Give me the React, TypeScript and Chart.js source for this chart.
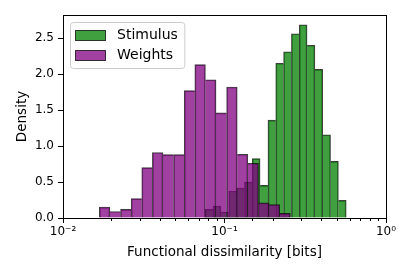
import React, { useEffect, useRef } from 'react';
import { Chart, registerables } from 'chart.js';

Chart.register(...registerables);

// ---- data ----
const seriesLabels = ['Stimulus', 'Weights'];

// bin centres (log-spaced bins) and densities
const stimulusBinCenters = [0.0804, 0.08989, 0.10053, 0.1124, 0.12566, 0.14054, 0.15711, 0.17567, 0.19643, 0.21957, 0.24549, 0.27455, 0.30697, 0.34322, 0.38371, 0.429, 0.47973, 0.53641];
const stimulusDensity = [0.12, 0.167, 0.083, 0.375, 0.417, 0.5, 0.824, 0.454, 1.36, 2.15, 2.31, 2.56, 2.685, 2.4, 2.065, 1.157, 0.787, 0.245];

const weightsBinCenters = [0.018096, 0.021051, 0.024491, 0.028494, 0.03315, 0.038566, 0.044866, 0.052192, 0.060716, 0.070632, 0.082168, 0.095566, 0.11117, 0.12933, 0.15045, 0.17502, 0.2036, 0.23686];
const weightsDensity = [0.15, 0.09, 0.12, 0.27, 0.7, 0.91, 0.88, 0.88, 1.77, 2.13, 1.92, 1.46, 1.82, 0.885, 0.76, 0.21, 0.185, 0.065];

const xMin = 0.01;
const xMax = 1;
const yMin = 0;
const yMax = 2.82;
const yStep = 0.5;

const xTitle = 'Functional dissimilarity [bits]';
const yTitle = 'Density';

const FONT = "'DejaVu Sans', sans-serif";

const SUP: Record<string, string> = { '-': '\u207B', '0': '\u2070', '1': '\u00B9', '2': '\u00B2', '3': '\u00B3', '4': '\u2074', '5': '\u2075', '6': '\u2076', '7': '\u2077', '8': '\u2078', '9': '\u2079' };
const isDecade = (v: number) => {
  const e = Math.log10(v);
  return Math.abs(e - Math.round(e)) < 1e-6;
};
const decadeLabel = (v: number) => {
  const e = Math.round(Math.log10(v));
  return '10' + String(e).split('').map((c) => SUP[c] || c).join('');
};

const edgeWidth = (values: number[]) => (ctx: any) => {
  const i = ctx.dataIndex;
  if (i === undefined) return 1;
  const v = values[i];
  const prev = i > 0 ? values[i - 1] : -Infinity;
  const next = i < values.length - 1 ? values[i + 1] : -Infinity;
  return { top: 1, bottom: 0, left: prev <= v ? 1 : 0, right: next < v ? 1 : 0 };
};

const frameAndLegend = {
  id: 'frameAndLegend',
  afterDraw(chart: any) {
    const { ctx, chartArea: a } = chart;
    ctx.save();
    // axes frame (4 spines)
    ctx.strokeStyle = '#000';
    ctx.lineWidth = 1;
    ctx.strokeRect(Math.round(a.left) + 0.5, Math.round(a.top) + 0.5, Math.round(a.right - a.left), Math.round(a.bottom - a.top));

    // legend inside the axes, upper left
    const ds = chart.data.datasets;
    ctx.font = `14px ${FONT}`;
    const textX = a.left + 54;
    let maxW = 0;
    ds.forEach((d: any) => { maxW = Math.max(maxW, ctx.measureText(d.label).width); });
    const bx = a.left + 7.5;
    const by = a.top + 7.5;
    const bw = textX + maxW + 7 - bx;
    const bh = 46;
    const r = 3;
    ctx.beginPath();
    ctx.moveTo(bx + r, by);
    ctx.lineTo(bx + bw - r, by);
    ctx.arcTo(bx + bw, by, bx + bw, by + r, r);
    ctx.lineTo(bx + bw, by + bh - r);
    ctx.arcTo(bx + bw, by + bh, bx + bw - r, by + bh, r);
    ctx.lineTo(bx + r, by + bh);
    ctx.arcTo(bx, by + bh, bx, by + bh - r, r);
    ctx.lineTo(bx, by + r);
    ctx.arcTo(bx, by, bx + r, by, r);
    ctx.closePath();
    ctx.fillStyle = 'rgba(255,255,255,0.8)';
    ctx.fill();
    ctx.strokeStyle = 'rgba(204,204,204,1)';
    ctx.lineWidth = 1;
    ctx.stroke();

    ds.forEach((d: any, i: number) => {
      const hy = a.top + 15.5 + i * 20;
      ctx.fillStyle = d.backgroundColor;
      ctx.fillRect(a.left + 12.5, hy, 30, 10);
      ctx.strokeStyle = d.borderColor;
      ctx.lineWidth = 1;
      ctx.strokeRect(a.left + 12.5, hy, 30, 10);
      ctx.fillStyle = '#000';
      ctx.textAlign = 'left';
      ctx.textBaseline = 'middle';
      ctx.fillText(d.label, textX, hy + 5);
    });
    ctx.restore();
  },
};

const hiddenLogAxis = {
  type: 'logarithmic' as const,
  min: xMin,
  max: xMax,
  display: false,
  offset: false,
  grid: { offset: false },
  afterBuildTicks: (s: any) => { s.ticks = [{ value: xMin }, { value: xMax }]; },
};

export default function App() {
  const ref = useRef<HTMLCanvasElement | null>(null);

  useEffect(() => {
    if (!ref.current) return;
    const chart = new Chart(ref.current, {
      type: 'bar',
      data: {
        datasets: [
          {
            label: seriesLabels[0],
            data: stimulusBinCenters.map((x, i) => ({ x, y: stimulusDensity[i] })),
            xAxisID: 'xg',
            yAxisID: 'y',
            backgroundColor: 'rgba(0,128,0,0.75)',
            borderColor: 'rgba(0,0,0,0.75)',
            borderWidth: edgeWidth(stimulusDensity) as any,
            barPercentage: 1,
            categoryPercentage: 1,
            grouped: false,
            order: 1,
          } as any,
          {
            label: seriesLabels[1],
            data: weightsBinCenters.map((x, i) => ({ x, y: weightsDensity[i] })),
            xAxisID: 'xp',
            yAxisID: 'y',
            backgroundColor: 'rgba(128,0,128,0.75)',
            borderColor: 'rgba(0,0,0,0.75)',
            borderWidth: edgeWidth(weightsDensity) as any,
            barPercentage: 1,
            categoryPercentage: 1,
            grouped: false,
            order: 0,
          } as any,
        ],
      },
      options: {
        animation: false,
        responsive: false,
        devicePixelRatio: 1,
        layout: { padding: { top: 15, right: 29, left: 0, bottom: 0 } },
        plugins: { legend: { display: false }, tooltip: { enabled: false } },
        scales: {
          x: {
            type: 'logarithmic',
            min: xMin,
            max: xMax,
            position: 'bottom',
            weight: 1,
            offset: false,
            border: { display: false },
            grid: {
              offset: false,
              drawOnChartArea: false,
              drawTicks: true,
              tickLength: 5,
              tickColor: (c: any) => (c.tick && isDecade(c.tick.value) ? '#000' : 'rgba(0,0,0,0)'),
            },
            ticks: {
              autoSkip: false,
              maxRotation: 0,
              minRotation: 0,
              padding: 2,
              color: '#000',
              font: { family: FONT, size: 12 },
              callback: (v: any) => (isDecade(Number(v)) ? decadeLabel(Number(v)) : ''),
            },
            title: {
              display: true,
              text: xTitle,
              color: '#000',
              font: { family: FONT, size: 13.5 },
              padding: { top: 0, bottom: 16 },
            },
            afterFit: (s: any) => { s.height = 59; },
          } as any,
          xMinor: {
            type: 'logarithmic',
            min: xMin,
            max: xMax,
            position: 'bottom',
            weight: 0,
            offset: false,
            border: { display: false },
            grid: { offset: false, drawOnChartArea: false, drawTicks: true, tickLength: 3, tickColor: '#000' },
            ticks: { display: false, autoSkip: false },
            afterFit: (s: any) => { s.height = 0; },
          } as any,
          xg: hiddenLogAxis as any,
          xp: hiddenLogAxis as any,
          y: {
            type: 'linear',
            min: yMin,
            max: yMax,
            border: { display: false },
            grid: { drawOnChartArea: false, drawTicks: true, tickLength: 5, tickColor: '#000' },
            ticks: {
              stepSize: yStep,
              includeBounds: false,
              padding: 4,
              color: '#000',
              font: { family: FONT, size: 12 },
              callback: (v: any) => Number(v).toFixed(1),
            },
            title: {
              display: true,
              text: yTitle,
              color: '#000',
              font: { family: FONT, size: 13.5 },
              padding: { top: 14, bottom: 0 },
            },
            afterFit: (s: any) => { s.width = 63; },
          } as any,
        },
      },
      plugins: [frameAndLegend],
    });
    return () => chart.destroy();
  }, []);

  return (
    <div style={{ position: 'fixed', left: 0, top: 0, width: 415, height: 277, background: '#fff' }}>
      <canvas ref={ref} width={415} height={277} style={{ width: 415, height: 277, display: 'block' }} />
    </div>
  );
}
